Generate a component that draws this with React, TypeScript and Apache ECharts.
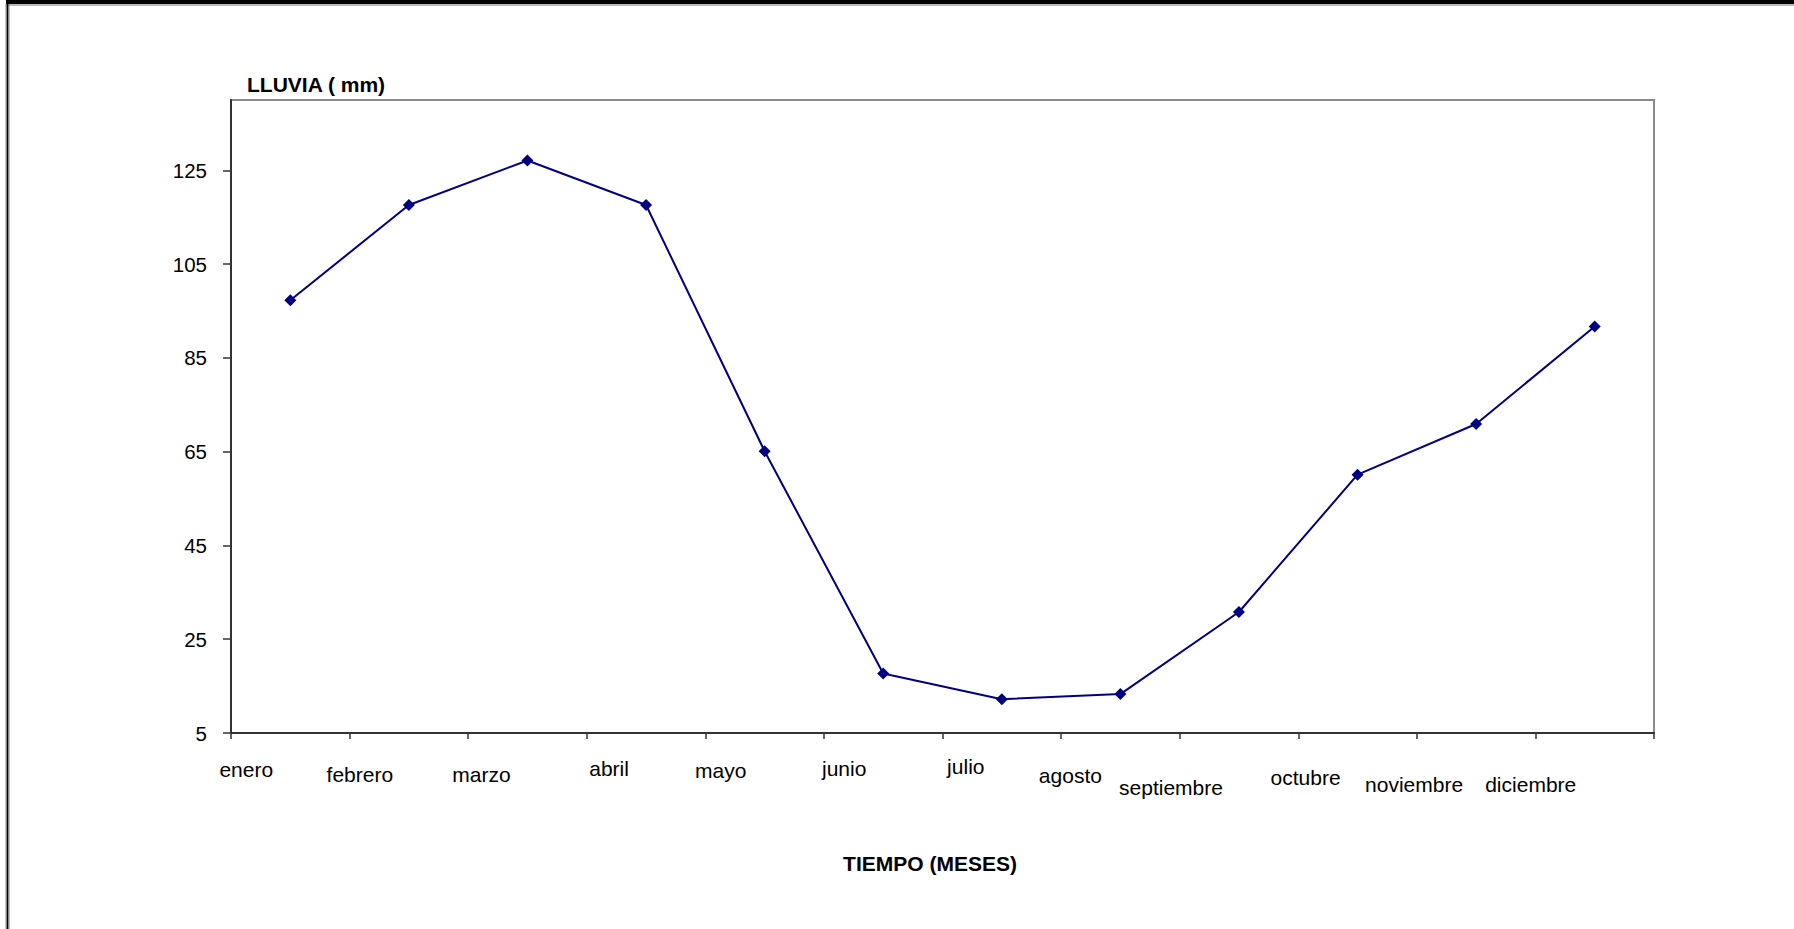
import React, { useEffect, useRef } from "react";
import * as echarts from "echarts";

// ---- data ----
const months = [
  "enero", "febrero", "marzo", "abril", "mayo", "junio",
  "julio", "agosto", "septiembre", "octubre", "noviembre", "diciembre",
];
const rainfall = [97.3, 117.6, 127.1, 117.6, 65.1, 17.7, 12.2, 13.3, 30.8, 60.1, 70.9, 91.7];
const yTicks = [5, 25, 45, 65, 85, 105, 125];
const yAxisTitle = "LLUVIA ( mm)";
const xAxisTitle = "TIEMPO (MESES)";

// ---- layout of the staggered month labels (offset from category centre, baseline below axis) ----
const labelDx = [-44, -49, -46, -37, -44, -39, -36, -50, -68, -52, -62, -64];
const labelBaseline = [44, 49, 49, 43, 45, 43, 41, 50, 62, 52, 59, 59];

const FONT = "'Liberation Sans', Arial, Helvetica, sans-serif";
const W = 1794;
const H = 929;
const GRID = { left: 231, top: 100, right: 140, bottom: 196 };

export default function App() {
  const ref = useRef<HTMLDivElement>(null);

  useEffect(() => {
    if (!ref.current) return;
    const chart = echarts.init(ref.current, null, { renderer: "svg", width: W, height: H });

    const frame = [
      { type: "line", shape: { x1: 6, y1: 2, x2: W + 10, y2: 2 }, style: { stroke: "#000", lineWidth: 4 } },
      { type: "line", shape: { x1: 6, y1: 5, x2: W + 10, y2: 5 }, style: { stroke: "#777", lineWidth: 1.2 } },
      { type: "line", shape: { x1: 7.5, y1: 2, x2: 7.5, y2: H + 10 }, style: { stroke: "#000", lineWidth: 2 } },
      { type: "line", shape: { x1: 6, y1: 4, x2: 6, y2: H + 10 }, style: { stroke: "#888", lineWidth: 1 } },
      { type: "line", shape: { x1: 9, y1: 5, x2: 9, y2: H + 10 }, style: { stroke: "#888", lineWidth: 1 } },
      {
        type: "text",
        x: 247,
        y: 84.7,
        style: { text: yAxisTitle, font: `bold 21px ${FONT}`, fill: "#000", align: "left", verticalAlign: "middle" },
      },
      {
        type: "text",
        x: 930,
        y: 863.7,
        style: { text: xAxisTitle, font: `bold 21px ${FONT}`, fill: "#000", align: "center", verticalAlign: "middle" },
      },
    ];

    chart.setOption({
      animation: false,
      backgroundColor: "#fff",
      grid: {
        ...GRID,
        show: true,
        borderColor: "#8a8a8a",
        borderWidth: 2,
        backgroundColor: "transparent",
      },
      xAxis: {
        type: "category",
        data: months,
        boundaryGap: true,
        axisLine: { show: true, lineStyle: { color: "#333", width: 2 } },
        axisTick: { show: true, inside: false, length: 6, alignWithLabel: false, lineStyle: { color: "#333", width: 1.5 } },
        axisLabel: { show: false },
        splitLine: { show: false },
      },
      yAxis: {
        type: "value",
        min: 5,
        max: 140,
        interval: 20,
        axisLine: { show: true, lineStyle: { color: "#333", width: 2 } },
        axisTick: { show: true, length: 8, customValues: yTicks, lineStyle: { color: "#333", width: 1.5 } },
        axisLabel: {
          show: true,
          customValues: yTicks,
          margin: 24,
          fontFamily: FONT,
          fontSize: 20.5,
          color: "#000",
        },
        splitLine: { show: false },
      },
      series: [
        {
          type: "line",
          data: rainfall,
          symbol: "diamond",
          symbolSize: 12,
          showSymbol: true,
          lineStyle: { color: "#000080", width: 2 },
          itemStyle: { color: "#000080" },
        },
      ],
      graphic: frame,
    });

    const axisY = H - GRID.bottom;
    const labels = months.map((m, i) => {
      const cx = chart.convertToPixel({ xAxisIndex: 0 }, m) as number;
      return {
        type: "text",
        x: cx + labelDx[i],
        y: axisY + labelBaseline[i] - 7.3,
        style: { text: m, font: `21px ${FONT}`, fill: "#000", align: "center", verticalAlign: "middle" },
      };
    });
    chart.setOption({ graphic: [...frame, ...labels] });

    return () => chart.dispose();
  }, []);

  return (
    <div
      ref={ref}
      style={{ position: "fixed", left: 0, top: 0, width: W, height: H, background: "#fff" }}
    />
  );
}
